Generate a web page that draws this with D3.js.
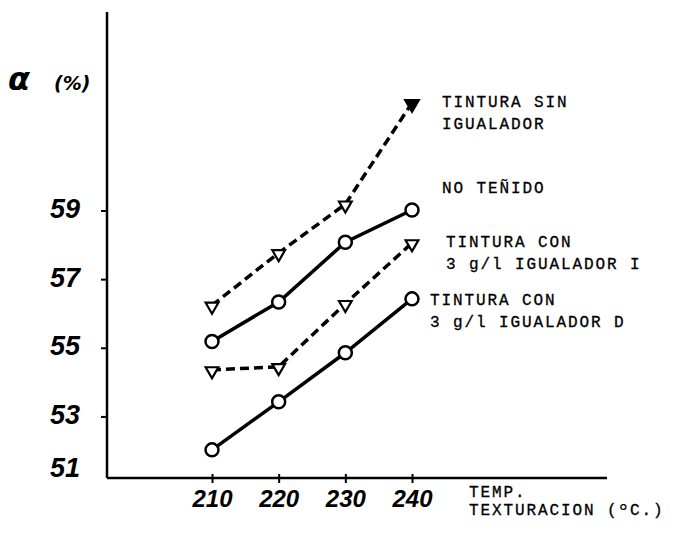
<!DOCTYPE html>
<html>
<head>
<meta charset="utf-8">
<script src="https://cdn.jsdelivr.net/npm/d3@7"></script>
<style>
  body { margin: 0; background: #fff; }
  .num { font-family: "Liberation Sans", sans-serif; font-style: italic; font-weight: bold; fill: #000; }
  .lab { font-family: "Liberation Mono", monospace; font-size: 16px; letter-spacing: 1.9px; fill: #000; stroke: #000; stroke-width: 0.3px; }
</style>
</head>
<body>
<script>
// temperatures (x) and alpha values (%)
const temps = [210, 220, 230, 240];
const sinIgualador = [56.25, 57.78, 59.2, 62.15];
const noTenido = [55.2, 56.35, 58.09, 59.03];
const igualadorI = [54.37, 54.46, 56.3, 58.07];
const igualadorD = [52.04, 53.44, 54.87, 56.44];
const yTicks = [53, 55, 57, 59];
const yLabels = [51, 53, 55, 57, 59];

const series = [
  { name: ["TINTURA SIN", "IGUALADOR"], values: sinIgualador, dashed: true, marker: "tri" },
  { name: ["NO TEÑIDO"], values: noTenido, dashed: false, marker: "circle" },
  { name: ["TINTURA CON", "3 g/l IGUALADOR I"], values: igualadorI, dashed: true, marker: "tri" },
  { name: ["TINTURA CON", "3 g/l IGUALADOR D"], values: igualadorD, dashed: false, marker: "circle" },
];
// label offsets from the last point of each line
const labelOff = [[30, 4], [30, -17], [34, 4], [18, 6]];

const width = 675, height = 537;

const svg = d3.select("body").append("svg")
    .attr("width", width)
    .attr("height", height);

const x = d3.scaleLinear().domain([210, 240]).range([212, 412]);
const y = d3.scaleLinear().domain([51.22, 64.8]).range([478, 12]);

const x0 = 107, yBottom = y(51.22);

// axes lines
svg.append("line")
    .attr("x1", x0).attr("x2", x0)
    .attr("y1", y(64.8)).attr("y2", yBottom)
    .attr("stroke", "#000").attr("stroke-width", 2.5);
svg.append("line")
    .attr("x1", x0).attr("x2", 607)
    .attr("y1", yBottom).attr("y2", yBottom)
    .attr("stroke", "#000").attr("stroke-width", 2.5);

// y ticks
svg.selectAll(".yt")
    .data(yTicks)
  .enter().append("line")
    .attr("x1", x0 - 6).attr("x2", x0)
    .attr("y1", d => y(d)).attr("y2", d => y(d))
    .attr("stroke", "#000").attr("stroke-width", 2);

svg.selectAll(".yl")
    .data(yLabels)
  .enter().append("text")
    .attr("class", "num")
    .attr("x", 65)
    .attr("y", d => d === 51 ? yBottom - 1 : y(d) + 7)
    .attr("text-anchor", "middle")
    .style("font-size", "27px")
    .text(d => d);

// x ticks
const xAxis = d3.axisBottom(x)
    .tickValues(temps)
    .tickSizeInner(5)
    .tickSizeOuter(0)
    .tickPadding(7)
    .tickFormat(d3.format("d"));

const gx = svg.append("g")
    .attr("transform", "translate(0," + yBottom + ")")
    .call(xAxis);
gx.select(".domain").remove();
gx.selectAll(".tick line")
    .attr("y1", -4)
    .attr("stroke", "#000")
    .attr("stroke-width", 2);
gx.selectAll(".tick text")
    .attr("class", "num")
    .attr("fill", "#000")
    .style("font-size", "24px");

// axis titles
svg.append("text")
    .attr("x", 8).attr("y", 90)
    .style("font-family", "'DejaVu Sans', sans-serif")
    .style("font-style", "italic")
    .style("font-weight", "bold")
    .style("font-size", "32px")
    .text("α");
svg.append("text")
    .attr("x", 54).attr("y", 90)
    .style("font-family", "'DejaVu Sans', sans-serif")
    .style("font-style", "italic")
    .style("font-weight", "bold")
    .style("font-size", "19px")
    .text("(%)");

svg.append("text").attr("class", "lab")
    .attr("x", 469).attr("y", 497).text("TEMP.");
svg.append("text").attr("class", "lab")
    .attr("x", 469).attr("y", 515).text("TEXTURACION (ºC.)");

// lines
const line = d3.line()
    .x((d, i) => x(temps[i]))
    .y(d => y(d));

series.forEach((s, si) => {
  svg.append("path")
      .datum(s.values)
      .attr("d", line)
      .attr("fill", "none")
      .attr("stroke", "#000")
      .attr("stroke-width", 3.5)
      .attr("stroke-dasharray", s.dashed ? "9,5" : null);

  const g = svg.append("g");
  s.values.forEach((v, i) => {
    const px = x(temps[i]), py = y(v);
    if (s.marker === "circle") {
      g.append("circle")
          .attr("cx", px).attr("cy", py).attr("r", 6.5)
          .attr("fill", "#fff").attr("stroke", "#000").attr("stroke-width", 2.5);
    } else {
      const filled = si === 0 && i === temps.length - 1;
      const t = d3.symbol().type(d3.symbolTriangle).size(filled ? 80 : 70);
      g.append("path")
          .attr("d", t())
          .attr("transform", "translate(" + px + "," + (py + 1) + ") rotate(180)")
          .attr("fill", filled ? "#000" : "#fff")
          .attr("stroke", "#000").attr("stroke-width", 2.2);
    }
  });

  const last = s.values[s.values.length - 1];
  s.name.forEach((t, li) => {
    svg.append("text")
        .attr("class", "lab")
        .attr("x", x(240) + labelOff[si][0])
        .attr("y", y(last) + labelOff[si][1] + li * 22)
        .text(t);
  });
});
</script>
</body>
</html>
